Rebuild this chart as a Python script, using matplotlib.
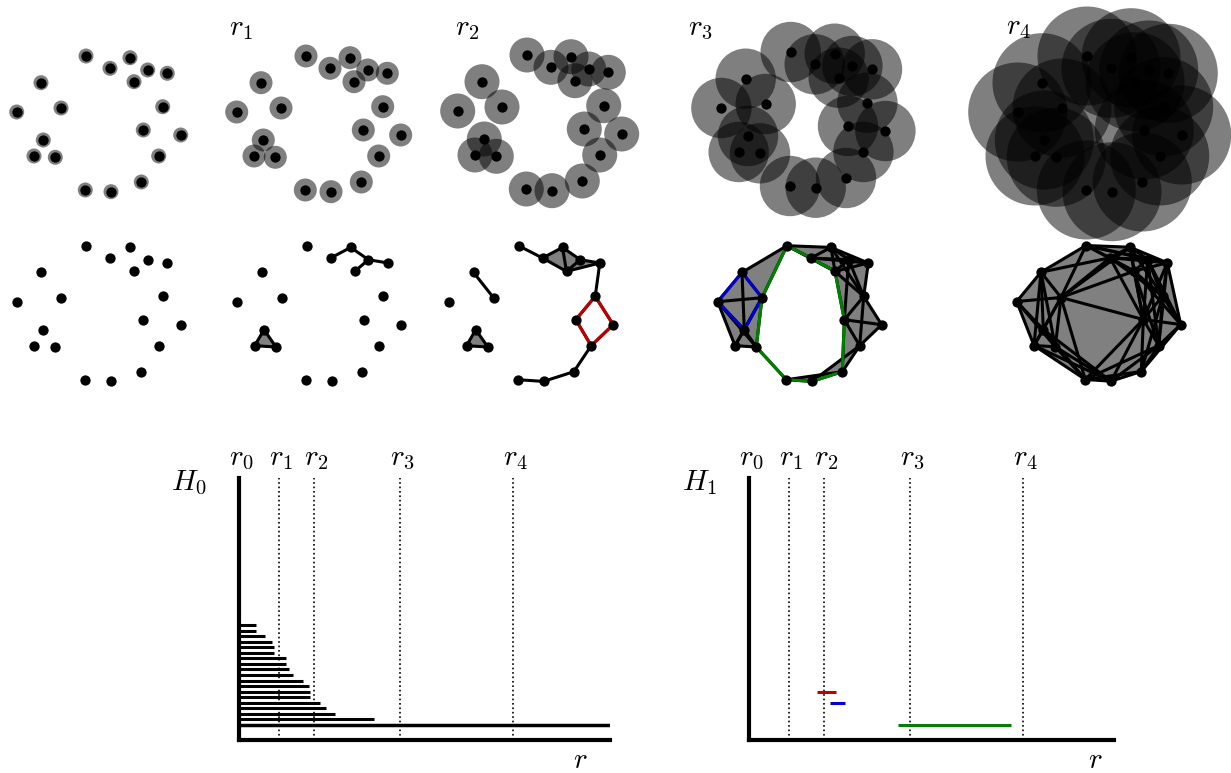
import numpy as np
import matplotlib.pyplot as plt
from matplotlib.patches import Circle, Polygon
from itertools import combinations

plt.rcParams['mathtext.fontset'] = 'cm'

# point cloud, in pixels of the first panel (y grows downwards)
pts_x = [86, 110, 130, 147.7, 167.3, 134, 41, 61, 162.7, 16.7,
         143.3, 180.7, 43.3, 34, 55.3, 158.7, 141.3, 85.3, 111]
pts_y = [56, 68.3, 57.7, 70, 73.3, 81.7, 82.7, 108, 106.7, 112,
         130, 135, 140, 156, 157.3, 156, 182, 190, 191.7]

# ball radius for each stage of the filtration (pixels)
ball_radius = [7.5, 11.5, 17.5, 30.2, 49.5]
# longest edge that appears in the complex at each stage (pixels)
edge_length = [15, 23, 35, 60.4, 88]
stage_labels = ['', '$r_1$', '$r_2$', '$r_3$', '$r_4$']

# cycles highlighted in the complexes: (stage, vertices, colour)
cycles = [(2, [8, 10, 15, 11], '#c00000'),
          (3, [6, 9, 12, 7], '#0000cc'),
          (3, [0, 1, 5, 10, 16, 18, 17, 14, 7], '#007f00')]

# barcodes
r_marks = [0, 40, 74.7, 161, 274.3]
r_names = ['$r_0$', '$r_1$', '$r_2$', '$r_3$', '$r_4$']
h0_death = [135.3, 96.3, 86.7, 80.7, 70.7, 70.7, 69.7, 63.7, 53.7, 50,
            46.7, 46.7, 35.3, 35.3, 33, 25.7, 17, 17]
h1_birth = [67.7, 81.3, 149.3]
h1_death = [87, 96.3, 261.7]
h1_row = [7, 5, 1]
h1_color = ['#c00000', '#0000cc', '#007f00']

# panel placement (pixels)
top_off = [(0, 0), (220, 0), (441, -1), (704.7, -4), (1001, 0)]
bot_off = [(0, 189.7), (220.7, 189.7), (432.5, 189.7), (701, 189.7), (1000, 189.5)]
label_pos = [None, (229, 35), (455, 35), (688, 35), (1006, 34)]

W, H = 1231, 773
fig = plt.figure(figsize=(W / 100, H / 100), dpi=100)
ax = fig.add_axes([0, 0, 1, 1])
ax.set_xlim(0, W)
ax.set_ylim(H, 0)
ax.axis('off')

px = np.array(pts_x)
py = np.array(pts_y)
n = len(px)
dist = np.hypot(px[:, None] - px[None, :], py[:, None] - py[None, :])

# top row: union of balls
for k, (ox, oy) in enumerate(top_off):
    for x, y in zip(px + ox, py + oy):
        ax.add_patch(Circle((x, y), ball_radius[k], facecolor='black',
                            alpha=0.5, edgecolor='none', zorder=1))
    ax.scatter(px + ox, py + oy, s=55, color='black', zorder=5, linewidths=0)
    if stage_labels[k]:
        lx, ly = label_pos[k]
        ax.text(lx, ly, stage_labels[k], fontsize=21, ha='left', va='baseline')

# bottom row: Rips complexes
for k, (ox, oy) in enumerate(bot_off):
    d = edge_length[k]
    edges = [(i, j) for i, j in combinations(range(n), 2) if dist[i, j] <= d]
    tris = [t for t in combinations(range(n), 3)
            if dist[t[0], t[1]] <= d and dist[t[0], t[2]] <= d and dist[t[1], t[2]] <= d]
    for t in tris:
        ax.add_patch(Polygon([(px[i] + ox, py[i] + oy) for i in t], closed=True,
                             facecolor='#808080', edgecolor='none', zorder=2))
    for i, j in edges:
        ax.plot([px[i] + ox, px[j] + ox], [py[i] + oy, py[j] + oy],
                color='black', lw=2.2, zorder=3, solid_capstyle='round')
    for stage, verts, col in cycles:
        if stage != k:
            continue
        vv = verts + [verts[0]]
        ax.plot(px[vv] + ox, py[vv] + oy, color=col, lw=2.2, zorder=4)
    ax.scatter(px + ox, py + oy, s=55, color='black', zorder=5, linewidths=0)


def barcode_axes(left, right, name):
    a = fig.add_axes([left / W, (H - 740) / H, (right - left) / W, 262 / H])
    a.set_xlim(0, right - left)
    a.set_ylim(-1.7, 45.46)
    for s in ['top', 'right']:
        a.spines[s].set_visible(False)
    for s in ['left', 'bottom']:
        a.spines[s].set_linewidth(3)
    a.set_xticks([])
    a.set_yticks([])
    for r, nm in zip(r_marks, r_names):
        if r > 0:
            a.axvline(r, color='black', lw=1.2, ls=':', zorder=1)
        a.text(r + 2, 1.05, nm, transform=a.get_xaxis_transform(), fontsize=21,
               ha='center', va='baseline')
    a.text(-0.088, 0.955, name, transform=a.transAxes, fontsize=21,
           ha='right', va='baseline')
    return a


a0 = barcode_axes(239, 610, '$H_0$')
a0.hlines(1, 0, 371, color='black', lw=2.5)
a0.hlines(np.arange(2, 2 + len(h0_death)), 0, h0_death, color='black', lw=2.2)
a0.text(0.92, -0.108, '$r$', transform=a0.transAxes, fontsize=21,
        ha='center', va='baseline')

a1 = barcode_axes(749, 1114, '$H_1$')
a1.hlines(h1_row, h1_birth, h1_death, colors=h1_color, lw=2.2)
a1.text(0.948, -0.108, '$r$', transform=a1.transAxes, fontsize=21,
        ha='center', va='baseline')

fig.savefig('out.png', dpi=100)
